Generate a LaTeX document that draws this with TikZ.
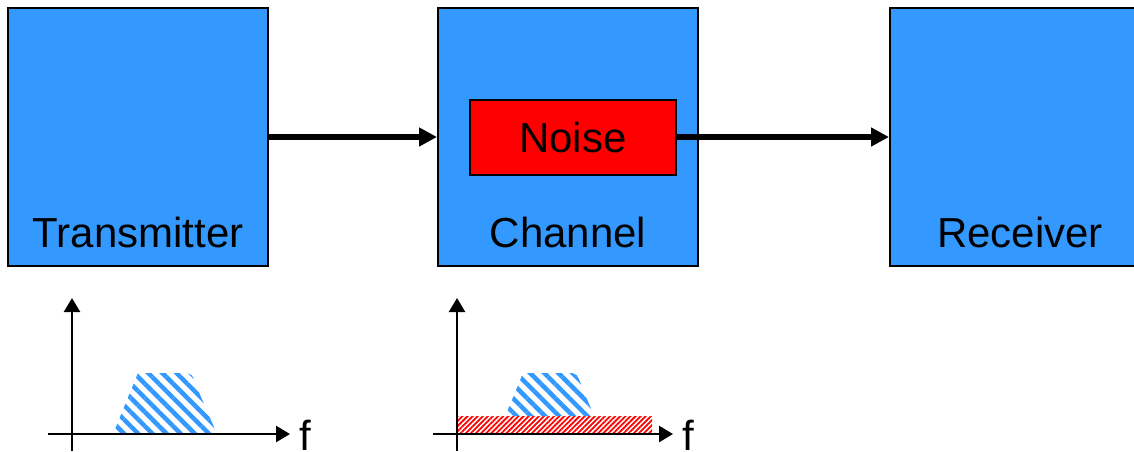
\documentclass[tikz,border=0pt]{standalone}
\usepackage{fontspec}
\setmainfont{Liberation Sans}
\usepackage{xcolor}
\definecolor{sysblue}{HTML}{3399FF}
\definecolor{sysred}{HTML}{FF0000}
\usepackage{tikz}
\usetikzlibrary{arrows.meta,positioning,patterns.meta}
\tikzset{
  sysbox/.style={draw,line width=2pt,fill=sysblue,minimum width=260pt,minimum height=258pt,inner sep=0pt},
  noisebox/.style={draw,line width=2pt,fill=sysred,minimum width=206pt,minimum height=75pt,inner sep=0pt,font=\fontsize{42}{48}\selectfont},
  syslabel/.style={inner sep=0pt,anchor=base,font=\fontsize{42}{48}\selectfont},
  sysflow/.style={-{Triangle[length=18pt,width=18pt]},line width=5.5pt},
  specaxis/.style={-{Triangle[length=14pt,width=16pt]},line width=2.5pt},
  sigspec/.style={pattern={Lines[angle=-45,distance=10pt,line width=4.5pt]},pattern color=sysblue},
  noisespec/.style={fill=white,postaction={pattern={Lines[angle=45,distance=3.6pt,line width=1.8pt]},pattern color=sysred}},
}
\begin{document}
\begin{tikzpicture}[x=1pt,y=1pt]
\useasboundingbox (0,0) rectangle (1134,451);
\node[sysbox](tx) at (138,314){};
\node[sysbox,right=168pt of tx](ch){};
\node[sysbox,right=190pt of ch](rx){};
\node[noisebox](noise) at ([xshift=5pt]ch.center){Noise};
\node[syslabel](txname) at ([yshift=20pt]tx.south){Transmitter};
\node[syslabel](chname) at ([yshift=20pt]ch.south){Channel};
\node[syslabel](rxname) at ([yshift=20pt]rx.south){Receiver};
\draw[sysflow](tx)--(ch);
\draw[sysflow](noise)--(rx);
\fill[sigspec](113,17)--(138,78)--(182,78) .. controls (192,78) .. (198,61)--(217,17)--cycle;
\draw[specaxis](72,0)--(72,153);
\draw[specaxis](48,17)--(290,17);
\node[inner sep=0pt,anchor=base west,font=\fontsize{42}{48}\selectfont](txf) at (299,1){f};
\fill[sigspec](498,17)--(523,78)--(567,78) .. controls (577,78) .. (583,61)--(602,17)--cycle;
\fill[noisespec](457,17) rectangle (652,35);
\draw[specaxis](457,0)--(457,153);
\draw[specaxis](433,17)--(673,17);
\node[inner sep=0pt,anchor=base west,font=\fontsize{42}{48}\selectfont](chf) at (682,1){f};
\end{tikzpicture}
\end{document}
